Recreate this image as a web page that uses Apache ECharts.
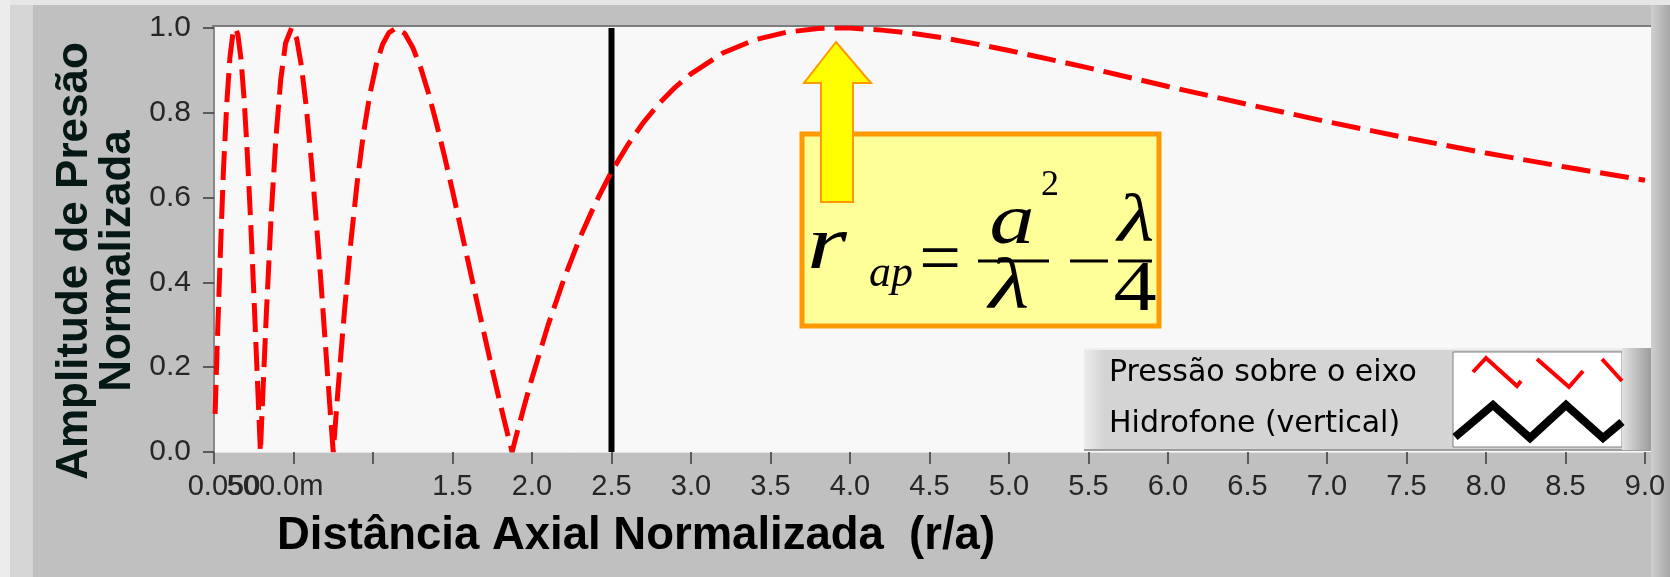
<!DOCTYPE html>
<html>
<head>
<meta charset="utf-8">
<script src="https://cdn.jsdelivr.net/npm/echarts@6.0.0/dist/echarts.min.js"></script>
<style>
    html, body { margin: 0; padding: 0; background: #c0c0c0; }
    #main { width: 1670px; height: 577px; }
</style>
</head>
<body>
<div id="main"></div>
<script>
    // distância axial normalizada (r/a) e amplitude
    const distancia = [0.007, 0.02, 0.04, 0.06, 0.08, 0.10, 0.12, 0.134, 0.15, 0.17, 0.19, 0.21, 0.23, 0.25, 0.27, 0.292,
        0.30, 0.33, 0.36, 0.39, 0.42, 0.45, 0.4875, 0.52, 0.55, 0.58, 0.61, 0.64, 0.67, 0.70, 0.73, 0.75,
        0.78, 0.82, 0.86, 0.90, 0.94, 0.98, 1.02, 1.06, 1.10, 1.146, 1.20, 1.25, 1.30, 1.35, 1.40, 1.45, 1.50,
        1.55, 1.60, 1.65, 1.70, 1.75, 1.80, 1.85, 1.875, 1.90, 1.95, 2.00, 2.10, 2.20, 2.30, 2.40, 2.50,
        2.60, 2.70, 2.80, 2.90, 3.00, 3.20, 3.40, 3.60, 3.80, 3.94, 4.00, 4.20, 4.40, 4.60, 4.80, 5.00,
        5.50, 6.00, 6.50, 7.00, 7.50, 8.00, 8.50, 9.00];
    const pressao = [0.09, 0.25, 0.47, 0.67, 0.82, 0.93, 0.99, 1.0, 0.985, 0.926, 0.829, 0.701, 0.548, 0.378, 0.197, 0.0,
        0.075, 0.332, 0.560, 0.744, 0.879, 0.964, 1.0, 0.975, 0.910, 0.815, 0.695, 0.560, 0.414, 0.257, 0.101, 0.0,
        0.147, 0.330, 0.493, 0.634, 0.751, 0.843, 0.913, 0.961, 0.989, 1.0, 0.987, 0.954, 0.906, 0.845, 0.774, 0.697, 0.616,
        0.531, 0.446, 0.361, 0.277, 0.194, 0.114, 0.037, 0.0, 0.037, 0.107, 0.174, 0.298, 0.407, 0.504, 0.588, 0.661,
        0.723, 0.777, 0.822, 0.860, 0.892, 0.941, 0.972, 0.990, 0.999, 1.0, 1.0, 0.995, 0.987, 0.976, 0.962, 0.947,
        0.906, 0.862, 0.820, 0.779, 0.741, 0.705, 0.672, 0.641];

    // posição do hidrofone (linha vertical)
    const hidrofoneX = [2.5, 2.5];
    const hidrofoneY = [0, 1];

    const seriesNames = ['Pressão sobre o eixo', 'Hidrofone (vertical)'];
    const xTickLabels = ['0.050', '500.0m', '', '1.5', '2.0', '2.5', '3.0', '3.5', '4.0', '4.5', '5.0',
        '5.5', '6.0', '6.5', '7.0', '7.5', '8.0', '8.5', '9.0'];
    const yTickLabels = ['0.0', '0.2', '0.4', '0.6', '0.8', '1.0'];

    const chart = echarts.init(document.getElementById('main'));

    let curve = [];
    for (let i = 0; i < distancia.length; i++) {
        curve.push([distancia[i], pressao[i]]);
    }
    let hidro = [];
    for (let i = 0; i < hidrofoneX.length; i++) {
        hidro.push([hidrofoneX[i], hidrofoneY[i]]);
    }

    const tickFont = 'Liberation Sans';
    const tickSize = 29;
    const serif = '"Liberation Serif", "DejaVu Serif", serif';

    // o rótulo "500.0m" fica num segundo eixo, senão o ECharts esconde-o por sobreposição com "0.050"
    function xLabel(which) {
        return function (v) {
            let i = Math.round(v / 0.5);
            let txt = xTickLabels[i];
            if (txt === undefined) return '';
            if (which === 0) {
                if (i === 1) return '';
                if (i === 0) return '{s|' + txt + '}';
                return txt;
            }
            return i === 1 ? '{t|' + txt + '}' : '';
        };
    }

    // texto da fórmula (posições em px)
    function formula(txt, x, y, font, align, sx) {
        return {
            type: 'text', z: 22, x: x, y: y, scaleX: sx || 1, originX: 0, originY: 0,
            style: { text: txt, font: font, fill: '#000', align: align, verticalAlign: 'middle' }
        };
    }

    let option = {
        animation: false,
        backgroundColor: '#c0c0c0',
        grid: {
            left: 214,
            right: 25,
            top: 28,
            bottom: 125,
            containLabel: false,
            outerBoundsMode: 'none'
        },
        xAxis: [
            {
                type: 'value',
                min: 0,
                max: 9,
                interval: 0.5,
                name: 'Distância Axial Normalizada  (r/a)',
                nameLocation: 'middle',
                nameGap: 61,
                nameMoveOverlap: false,
                nameTextStyle: {
                    fontFamily: 'Liberation Sans',
                    fontWeight: 'bold',
                    fontSize: 45.5,
                    lineHeight: 46,
                    color: '#000',
                    padding: [0, 587, 0, 0]
                },
                axisLine: { show: true, lineStyle: { color: '#e4e4e4', width: 1 } },
                axisTick: { show: true, length: 12, lineStyle: { color: '#3a3a3a', width: 1.5 } },
                splitLine: { show: false },
                axisLabel: {
                    margin: 20,
                    fontFamily: tickFont,
                    fontSize: tickSize,
                    lineHeight: tickSize,
                    color: '#262626',
                    hideOverlap: false,
                    showMinLabel: true,
                    showMaxLabel: true,
                    formatter: xLabel(0),
                    rich: {
                        s: { fontFamily: tickFont, fontSize: tickSize, lineHeight: tickSize, color: '#262626', padding: [0, 0, 0, 20] }
                    }
                }
            },
            {
                type: 'value',
                position: 'bottom',
                min: 0,
                max: 9,
                interval: 0.5,
                axisLine: { show: false },
                axisTick: { show: false },
                splitLine: { show: false },
                axisLabel: {
                    margin: 20,
                    fontFamily: tickFont,
                    fontSize: tickSize,
                    lineHeight: tickSize,
                    color: '#262626',
                    showMinLabel: false,
                    formatter: xLabel(1),
                    rich: {
                        t: { fontFamily: tickFont, fontSize: tickSize, lineHeight: tickSize, color: '#262626', padding: [0, 37, 0, 0] }
                    }
                }
            }
        ],
        yAxis: {
            type: 'value',
            min: 0,
            max: 1,
            interval: 0.2,
            name: 'Amplitude de Presão\nNormalizada',
            nameLocation: 'middle',
            nameGap: 75,
            nameMoveOverlap: false,
            nameTextStyle: {
                fontFamily: 'Liberation Sans',
                fontWeight: 'bold',
                fontSize: 44,
                lineHeight: 43,
                color: '#061815',
                padding: [0, 42, 0, 0]
            },
            axisLine: { show: true, lineStyle: { color: '#8a8a8a', width: 2 } },
            axisTick: { show: true, length: 11, lineStyle: { color: '#3a3a3a', width: 1.5 } },
            splitLine: { show: false },
            axisLabel: {
                margin: 23,
                fontFamily: tickFont,
                fontSize: 30,
                color: '#262626',
                formatter: function (v) {
                    return yTickLabels[Math.round(v / 0.2)];
                }
            }
        },
        series: [
            {
                name: seriesNames[1],
                type: 'line',
                data: hidro,
                symbol: 'none',
                silent: true,
                z: 3,
                lineStyle: { color: '#000', width: 6 }
            },
            {
                name: seriesNames[0],
                type: 'line',
                data: curve,
                symbol: 'none',
                silent: true,
                z: 4,
                lineStyle: { color: '#ff0000', width: 5, type: [29, 10], cap: 'butt' }
            }
        ],
        graphic: [
            // moldura do painel
            { type: 'rect', z: 0, shape: { x: 0, y: 0, width: 1670, height: 5 }, style: { fill: '#e6e6e6' } },
            { type: 'rect', z: 0, shape: { x: 0, y: 0, width: 10, height: 577 }, style: { fill: '#ececec' } },
            { type: 'rect', z: 0, shape: { x: 10, y: 5, width: 23, height: 572 }, style: { fill: '#d5d5d5' } },
            {
                type: 'rect', z: 0, shape: { x: 1651, y: 5, width: 19, height: 572 },
                style: {
                    fill: new echarts.graphic.LinearGradient(0, 0, 1, 0, [
                        { offset: 0, color: '#cfcfcf' }, { offset: 1, color: '#a6a6a6' }
                    ])
                }
            },
            // fundo da área do gráfico
            { type: 'rect', z: 0, shape: { x: 215, y: 27, width: 1436, height: 425 }, style: { fill: '#f8f8f8' } },
            { type: 'line', z: 1, shape: { x1: 212, y1: 26, x2: 1651, y2: 26 }, style: { stroke: '#7d7d7d', lineWidth: 2 } },

            // legenda
            { type: 'rect', z: 10, shape: { x: 1084, y: 348, width: 567, height: 102 }, style: { fill: '#d4d4d4' } },
            {
                type: 'rect', z: 10, shape: { x: 1084, y: 348, width: 20, height: 102 },
                style: {
                    fill: new echarts.graphic.LinearGradient(0, 0, 1, 0, [
                        { offset: 0, color: '#ececec' }, { offset: 1, color: '#d4d4d4' }
                    ])
                }
            },
            { type: 'line', z: 10, shape: { x1: 1084, y1: 349, x2: 1651, y2: 349 }, style: { stroke: '#efefef', lineWidth: 2 } },
            { type: 'line', z: 10, shape: { x1: 1084, y1: 450, x2: 1651, y2: 450 }, style: { stroke: '#9e9e9e', lineWidth: 2 } },
            { type: 'rect', z: 10, shape: { x: 1453, y: 352, width: 169, height: 95 }, style: { fill: '#ffffff', stroke: '#808080', lineWidth: 1 } },
            {
                type: 'rect', z: 10, shape: { x: 1622, y: 348, width: 29, height: 102 },
                style: {
                    fill: new echarts.graphic.LinearGradient(0, 0, 1, 0, [
                        { offset: 0, color: '#e2e2e2' }, { offset: 1, color: '#9c9c9c' }
                    ])
                }
            },
            {
                type: 'text', z: 11, x: 1109, y: 373,
                style: { text: seriesNames[0], font: '30px "DejaVu Sans"', fill: '#000', align: 'left', verticalAlign: 'middle' }
            },
            {
                type: 'text', z: 11, x: 1109, y: 424,
                style: { text: seriesNames[1], font: '30px "DejaVu Sans"', fill: '#000', align: 'left', verticalAlign: 'middle' }
            },
            { type: 'polyline', z: 11, shape: { points: [[1473, 372], [1486, 358], [1517, 386], [1521, 381]] }, style: { stroke: '#ff0000', lineWidth: 4, fill: null } },
            { type: 'polyline', z: 11, shape: { points: [[1537, 359], [1569, 387], [1583, 371]] }, style: { stroke: '#ff0000', lineWidth: 4, fill: null } },
            { type: 'polyline', z: 11, shape: { points: [[1602, 359], [1622, 381]] }, style: { stroke: '#ff0000', lineWidth: 4, fill: null } },
            {
                type: 'polyline', z: 11,
                shape: { points: [[1455, 437], [1493, 405], [1530, 438], [1566, 405], [1603, 438], [1622, 422]] },
                style: { stroke: '#000', lineWidth: 8, lineJoin: 'miter', fill: null }
            },

            // anotação r_ap
            { type: 'rect', z: 20, shape: { x: 802, y: 134, width: 357, height: 192 }, style: { fill: '#ffff99', stroke: '#ff9900', lineWidth: 5 } },
            {
                type: 'polygon', z: 21,
                shape: { points: [[836, 42], [871, 83], [853, 83], [853, 202], [821, 202], [821, 83], [804, 83]] },
                style: { fill: '#ffff00', stroke: '#ff9900', lineWidth: 2 }
            },
            formula('r', 807, 248, 'italic 76px ' + serif, 'left', 1.35),
            formula('ap', 869, 274, 'italic 44px ' + serif, 'left'),
            formula('=', 940, 263, '74px ' + serif, 'center'),
            { type: 'line', z: 22, shape: { x1: 978, y1: 261, x2: 1049, y2: 261 }, style: { stroke: '#000', lineWidth: 3 } },
            formula('a', 1012, 224, 'italic 72px ' + serif, 'center', 1.25),
            formula('2', 1041, 186, '36px ' + serif, 'left'),
            formula('λ', 1009, 289, 'italic 72px ' + serif, 'center', 1.3),
            { type: 'line', z: 22, shape: { x1: 1070, y1: 261, x2: 1108, y2: 261 }, style: { stroke: '#000', lineWidth: 3 } },
            { type: 'line', z: 22, shape: { x1: 1118, y1: 261, x2: 1152, y2: 261 }, style: { stroke: '#000', lineWidth: 3 } },
            formula('λ', 1136, 223, 'italic 68px ' + serif, 'center', 1.25),
            formula('4', 1135, 291, '72px ' + serif, 'center', 1.2)
        ]
    };

    chart.setOption(option);
</script>
</body>
</html>
